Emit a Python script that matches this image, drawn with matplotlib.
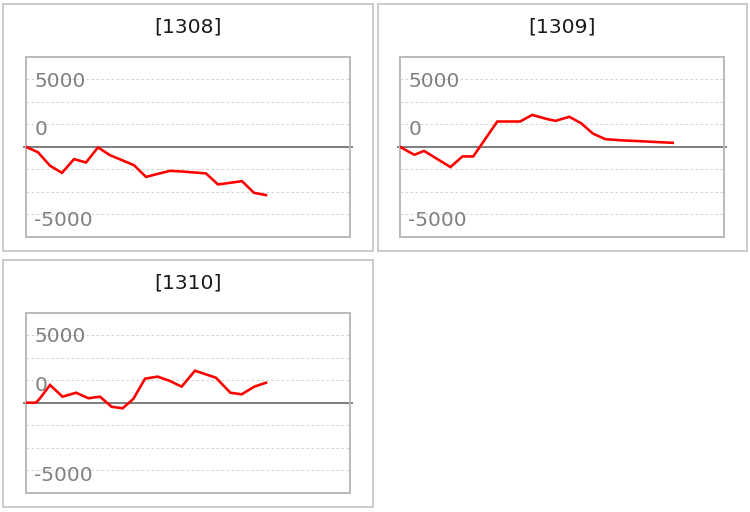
import matplotlib
matplotlib.use('Agg')
import matplotlib.pyplot as plt
from matplotlib.patches import Rectangle
import matplotlib.transforms as mtransforms

# ---------------- data ----------------
titles = ['[1308]', '[1309]', '[1310]']

x1308 = [0, 1, 2, 3, 4, 5, 6, 7, 8, 9, 10, 11, 12, 13, 14, 15, 16, 17, 18, 19, 20]
y1308 = [0, -400, -1400, -1930, -910, -1160, -40, -620, -990, -1360, -2230,
         -2000, -1780, -1830, -1900, -1970, -2790, -2670, -2545, -3410, -3580]

x1309 = [0, 0.6, 1.2, 2, 4.2, 5.2, 6.1, 8.1, 10, 11, 12.3, 12.95, 14.1, 15.1,
         16.05, 17.1, 18.5, 20, 21.5, 22.7]
y1309 = [0, -300, -590, -300, -1500, -710, -710, 1880, 1880, 2370, 2050, 1930,
         2230, 1740, 990, 570, 480, 420, 350, 300]

x1310 = [0, 0.83, 1.17, 2, 3.05, 4.17, 5.2, 6.17, 7.13, 8.05, 8.94, 9.92, 10.97,
         11.94, 12.97, 14.08, 15.83, 17.03, 17.97, 19.03, 20]
y1310 = [0, 0, 330, 1310, 445, 740, 330, 445, -300, -415, 275, 1780, 1930, 1630,
         1190, 2370, 1850, 740, 620, 1190, 1480]

tick_values = [5000, 0, -5000]
tick_labels = ['5000', '0', '-5000']
grid_values = [5000, 3333.3, 1666.7, -1666.7, -3333.3, -5000]

series = [(x1308, y1308), (x1309, y1309), (x1310, y1310)]

# ---------------- layout (pixels) ----------------
W, H = 750, 512
fig = plt.figure(figsize=(W / 100, H / 100), dpi=100)
fig.patch.set_facecolor('white')

frames = [(3, 4, 373, 251), (377.5, 4, 746.5, 251), (3, 260, 373, 507)]
boxes = [(26, 57, 350, 236.7), (400, 57, 724.3, 236.7), (26, 312.7, 350, 492.7)]
title_base = [32.7, 32.7, 288.7]

PX = 0.72  # points per pixel
label_offsets_px = [0, 19, -4]
tick_fs = 14.4
title_fs = 14.6

for i, ((fl, ft, fr, fb), (bl, bt, br, bb)) in enumerate(zip(frames, boxes)):
    fig.add_artist(Rectangle((fl / W, 1 - fb / H), (fr - fl) / W, (fb - ft) / H,
                             transform=fig.transFigure, facecolor='none',
                             edgecolor='#cccccc', linewidth=2 * PX))
    fig.text((fl + fr) / 2 / W, 1 - title_base[i] / H, titles[i],
             ha='center', va='baseline', fontsize=title_fs, color='#1a1a1a',
             family='DejaVu Sans')

    ax = fig.add_axes([bl / W, 1 - bb / H, (br - bl) / W, (bb - bt) / H])
    ax.set_xlim(0, 27)
    ax.set_ylim(-6667, 6667)
    ax.set_xticks([])
    ax.set_yticks([])
    for s in ax.spines.values():
        s.set_color('#bbbbbb')
        s.set_linewidth(2 * PX)
    for g in grid_values:
        ax.axhline(g, color='#d0d0d0', linewidth=1 * PX, linestyle=(0, (2.5, 2.5)),
                   zorder=1)
    ax.axhline(0, xmin=-0.007, xmax=1.005, color='#808080', linewidth=2 * PX,
               zorder=2, clip_on=False)

    xs, ys = series[i]
    ax.plot(xs, ys, color='#ff0000', linewidth=2.6 * PX, zorder=3,
            solid_joinstyle='miter')

    base_tr = mtransforms.blended_transform_factory(ax.transAxes, ax.transData)
    cap_pt = 0.729 * tick_fs
    for val, lab, off in zip(tick_values, tick_labels, label_offsets_px):
        tr = mtransforms.offset_copy(base_tr, fig=fig, x=0,
                                     y=off * PX - cap_pt / 2, units='points')
        ax.text(8.3 / (br - bl), val, lab, transform=tr, ha='left',
                va='baseline', fontsize=tick_fs, color='#808080',
                family='DejaVu Sans', zorder=4)

fig.savefig('out.png', dpi=100, facecolor='white')
